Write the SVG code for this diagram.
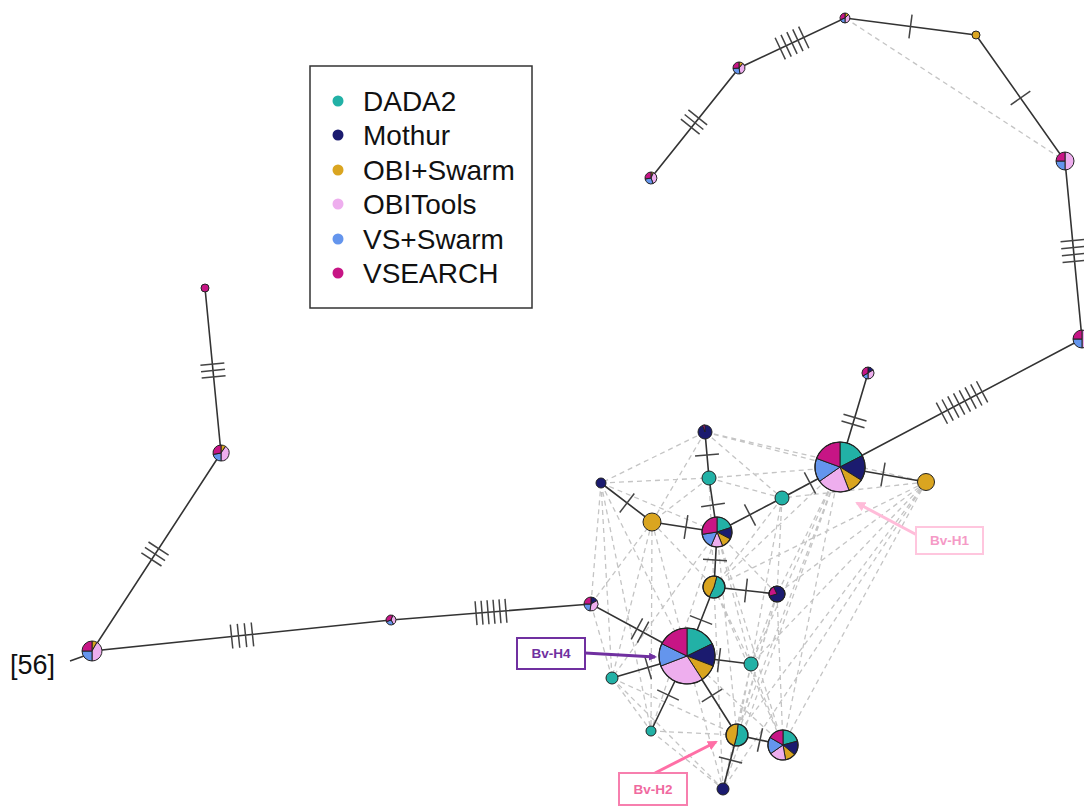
<svg xmlns="http://www.w3.org/2000/svg" width="1084" height="807" viewBox="0 0 1084 807">
<style>
.e{stroke:#333;stroke-width:1.6;fill:none}
.d{stroke:#c4c4c4;stroke-width:1.3;stroke-dasharray:5,4;fill:none}
.t{stroke:#444;stroke-width:1.5;fill:none}
.p{stroke:#222;stroke-width:1}
.c1{fill:#22b1a6}.c2{fill:#1b1b6f}.c3{fill:#DAA520}.c4{fill:#EEAEEE}.c5{fill:#6495ED}.c6{fill:#C71585}
.o{fill:none;stroke:#222;stroke-width:1.2}
.lg{font-family:"Liberation Sans",Arial,sans-serif;font-size:28px;fill:#111}
.lb{font-family:"Liberation Sans",Arial,sans-serif;font-size:13.5px;font-weight:bold;text-anchor:middle}
</style>
<defs>
<marker id="aP" markerWidth="8" markerHeight="8" refX="6" refY="4" orient="auto" markerUnits="userSpaceOnUse"><path d="M0,0L8,4L0,8Z" fill="#7030A0"/></marker>
<marker id="a1" markerWidth="10" markerHeight="10" refX="8" refY="5" orient="auto" markerUnits="userSpaceOnUse"><path d="M0,0L10,5L0,10Z" fill="#ffbcd9"/></marker>
<marker id="a2" markerWidth="10" markerHeight="10" refX="8" refY="5" orient="auto" markerUnits="userSpaceOnUse"><path d="M0,0L10,5L0,10Z" fill="#ff6fa6"/></marker>
</defs>
<rect width="1084" height="807" fill="#fff"/>

<g id="connectors">
<g id="dashed">
<path class="d" d="M845,18L1065,161"/>
<path class="d" d="M705,432L840,467M705,432L926,482M705,432L601,483M705,432L782,498M705,432L652,522
M601,483L709,478M601,483L717,532M601,483L612,678M601,483L687,656M601,483L651,731
M709,478L782,498M709,478L840,467M709,478L652,522M709,478L714,587
M652,522L612,678M652,522L651,731M652,522L687,656M652,522L714,587
M782,498L751,664M782,498L777,594M782,498L714,587
M840,467L777,594M840,467L751,664M840,467L783,745M840,467L737,735M840,467L714,587M840,467L717,532M840,467L723,789
M926,482L777,594M926,482L751,664M926,482L783,745M926,482L737,735M926,482L723,789M926,482L782,498M926,482L714,587
M717,532L751,664M717,532L777,594M717,532L783,745M717,532L737,735M717,532L612,678M717,532L651,731
M714,587L751,664M714,587L783,745M714,587L723,789
M777,594L751,664M777,594L783,745M777,594L737,735M777,594L723,789
M687,656L783,745M687,656L723,789
M751,664L783,745M751,664L723,789M751,664L737,735
M612,678L651,731M612,678L737,735M612,678L723,789
M651,731L737,735M651,731L723,789
M591,604L612,678M591,604L652,522M591,604L601,483"/>
</g>
<g id="solid">
<path class="e" d="M651,178L739,68L845,18L976,35L1065,161L1082,339L840,467"/>
<path class="e" d="M205,288L221,453L92,651L391,620L591,604L687,656"/>
<path class="e" d="M70,661L84,656"/>
<path class="e" d="M840,467L868,373M840,467L926,482M840,467L782,498L717,532L709,478L705,432M717,532L652,522L601,483M717,532L714,587L777,594M714,587L687,656"/>
<path class="e" d="M687,656L751,664M687,656L612,678M687,656L651,731M687,656L737,735L783,745M737,735L723,789"/>
</g>
<g id="ticks">
<g class="t" transform="translate(694,122) rotate(-51.3)"><path d="M-6,-12V12M0,-12V12M6,-12V12"/></g>
<g class="t" transform="translate(792,43) rotate(-25.3)"><path d="M-13,-12V12M-6.5,-12V12M0,-12V12M6.5,-12V12M13,-12V12"/></g>
<g class="t" transform="translate(910.5,26.5) rotate(7.4)"><path d="M0,-12V12"/></g>
<g class="t" transform="translate(1020.5,98) rotate(54.8)"><path d="M0,-12V12"/></g>
<g class="t" transform="translate(1073.5,251) rotate(84.5)"><path d="M-10.5,-12V12M-3.5,-12V12M3.5,-12V12M10.5,-12V12"/></g>
<g class="t" transform="translate(962,402.5) rotate(152.1)"><path d="M-22.75,-12V12M-16.25,-12V12M-9.75,-12V12M-3.25,-12V12M3.25,-12V12M9.75,-12V12M16.25,-12V12M22.75,-12V12"/></g>
<g class="t" transform="translate(854,421) rotate(-73.4)"><path d="M-3.5,-12V12M3.5,-12V12"/></g>
<g class="t" transform="translate(883,474.5) rotate(9.9)"><path d="M0,-12V12"/></g>
<g class="t" transform="translate(810,483) rotate(151.9)"><path d="M0,-12V12"/></g>
<g class="t" transform="translate(750,515) rotate(152.4)"><path d="M0,-12V12"/></g>
<g class="t" transform="translate(713,505) rotate(-98.4)"><path d="M0,-12V12"/></g>
<g class="t" transform="translate(707,455) rotate(-95)"><path d="M0,-12V12"/></g>
<g class="t" transform="translate(686,527) rotate(-171.3)"><path d="M0,-12V12"/></g>
<g class="t" transform="translate(627,503) rotate(-142.6)"><path d="M0,-12V12"/></g>
<g class="t" transform="translate(715,560) rotate(93.1)"><path d="M0,-12V12"/></g>
<g class="t" transform="translate(746,590.5) rotate(6.3)"><path d="M0,-12V12"/></g>
<g class="t" transform="translate(701,620) rotate(111.4)"><path d="M0,-12V12"/></g>
<g class="t" transform="translate(640,630.5) rotate(-151.6)"><path d="M-3.5,-12V12M3.5,-12V12"/></g>
<g class="t" transform="translate(719,660) rotate(7.1)"><path d="M0,-12V12"/></g>
<g class="t" transform="translate(648,667.4) rotate(163.7)"><path d="M0,-12V12"/></g>
<g class="t" transform="translate(668,695) rotate(115.6)"><path d="M0,-12V12"/></g>
<g class="t" transform="translate(712,695.5) rotate(57.7)"><path d="M0,-12V12"/></g>
<g class="t" transform="translate(760,740) rotate(12.3)"><path d="M0,-12V12"/></g>
<g class="t" transform="translate(730.5,760) rotate(104.5)"><path d="M0,-12V12"/></g>
<g class="t" transform="translate(491,612) rotate(175.4)"><path d="M-15,-12V12M-9,-12V12M-3,-12V12M3,-12V12M9,-12V12M15,-12V12"/></g>
<g class="t" transform="translate(242,635.5) rotate(174.1)"><path d="M-10.5,-12V12M-3.5,-12V12M3.5,-12V12M10.5,-12V12"/></g>
<g class="t" transform="translate(155,554) rotate(-56.9)"><path d="M-6.5,-12V12M0,-12V12M6.5,-12V12"/></g>
<g class="t" transform="translate(213,370.5) rotate(-95.5)"><path d="M-6.5,-12V12M0,-12V12M6.5,-12V12"/></g>
</g>
</g>

<g id="nodes">
<g id="n-top3" class="p"><path class="c3" d="M651,178L651,172A6,6 0 0 1 653.5,172.6Z"/><path class="c4" d="M651,178L653.5,172.6A6,6 0 0 1 653.1,183.6Z"/><path class="c5" d="M651,178L653.1,183.6A6,6 0 0 1 645.1,179Z"/><path class="c6" d="M651,178L645.1,179A6,6 0 0 1 651,172Z"/></g>
<g id="n-top2" class="p"><path class="c3" d="M739,68L739,62A6,6 0 0 1 742.9,63.4Z"/><path class="c4" d="M739,68L742.9,63.4A6,6 0 0 1 740,73.9Z"/><path class="c5" d="M739,68L740,73.9A6,6 0 0 1 733,68.5Z"/><path class="c6" d="M739,68L733,68.5A6,6 0 0 1 739,62Z"/></g>
<g id="n-top1" class="p"><path class="c3" d="M845,18L845,13A5,5 0 0 1 848.5,14.5Z"/><path class="c4" d="M845,18L848.5,14.5A5,5 0 0 1 845,23Z"/><path class="c5" d="M845,18L845,23A5,5 0 0 1 840.3,19.7Z"/><path class="c6" d="M845,18L840.3,19.7A5,5 0 0 1 845,13Z"/></g>
<g id="n-topR"><circle class="c3 p" cx="976" cy="35" r="4"/></g>
<g id="n-R1" class="p"><path class="c4" d="M1065,161L1065,152A9,9 0 0 1 1065,170Z"/><path class="c5" d="M1065,161L1065,170A9,9 0 0 1 1056,161Z"/><path class="c6" d="M1065,161L1056,161A9,9 0 0 1 1065,152Z"/></g>
<g id="n-R2" class="p"><path class="c4" d="M1082,339L1082,330A9,9 0 0 1 1082,348Z"/><path class="c5" d="M1082,339L1082,348A9,9 0 0 1 1073,339Z"/><path class="c6" d="M1082,339L1073,339A9,9 0 0 1 1082,330Z"/></g>
<g id="n-H1top" class="p"><path class="c2" d="M868,373L868,367A6,6 0 0 1 873.2,370Z"/><path class="c4" d="M868,373L873.2,370A6,6 0 0 1 868,379Z"/><path class="c5" d="M868,373L868,379A6,6 0 0 1 862.8,376Z"/><path class="c6" d="M868,373L862.8,376A6,6 0 0 1 868,367Z"/></g>
<g id="n-H1" class="p">
<path class="c1" d="M840,467L840,442A25,25 0 0 1 862.3,455.6Z"/>
<path class="c2" d="M840,467L862.3,455.6A25,25 0 0 1 861.2,480.2Z"/>
<path class="c3" d="M840,467L861.2,480.2A25,25 0 0 1 849,490.3Z"/>
<path class="c4" d="M840,467L849,490.3A25,25 0 0 1 819.5,481.3Z"/>
<path class="c5" d="M840,467L819.5,481.3A25,25 0 0 1 816.5,458.4Z"/>
<path class="c6" d="M840,467L816.5,458.4A25,25 0 0 1 840,442Z"/>
<circle class="o" cx="840" cy="467" r="25"/></g>
<g id="n-goldR"><circle class="c3 p" cx="926" cy="482" r="8.5"/></g>
<g id="n-tealF"><circle class="c1 p" cx="782" cy="498" r="7"/></g>
<g id="n-navyA" class="p"><circle class="c2" cx="705" cy="432" r="7"/><path class="c6" d="M705,432L702.6,425.4A7,7 0 0 1 705,425Z"/></g>
<g id="n-tealB"><circle class="c1 p" cx="709" cy="478" r="7"/></g>
<g id="n-navyC"><circle class="c2 p" cx="601" cy="483" r="5"/></g>
<g id="n-goldD"><circle class="c3 p" cx="652" cy="522" r="9"/></g>
<g id="n-H3" class="p">
<path class="c1" d="M717,532L717,517A15,15 0 0 1 731.3,527.4Z"/>
<path class="c2" d="M717,532L731.3,527.4A15,15 0 0 1 730.2,539Z"/>
<path class="c3" d="M717,532L730.2,539A15,15 0 0 1 722.6,545.9Z"/>
<path class="c4" d="M717,532L722.6,545.9A15,15 0 0 1 711.1,545.8Z"/>
<path class="c5" d="M717,532L711.1,545.8A15,15 0 0 1 702.2,534.3Z"/>
<path class="c6" d="M717,532L702.2,534.3A15,15 0 0 1 717,517Z"/>
<circle class="o" cx="717" cy="532" r="15"/></g>
<g id="n-I" class="p"><path class="c1" d="M714,587L716.8,576.4A11,11 0 1 1 709.3,597Z"/><path class="c3" d="M714,587L709.3,597A11,11 0 0 1 716.8,576.4Z"/><circle class="o" cx="714" cy="587" r="11"/></g>
<g id="n-J" class="p"><circle class="c2" cx="777" cy="594" r="8"/><path class="c6" d="M777,594L769.3,596.1A8,8 0 0 1 773.6,586.8Z"/><circle class="o" cx="777" cy="594" r="8"/></g>
<g id="n-L" class="p"><path class="c2" d="M591,604L591,597A7,7 0 0 1 597.1,600.5Z"/><path class="c4" d="M591,604L597.1,600.5A7,7 0 0 1 589.8,610.9Z"/><path class="c5" d="M591,604L589.8,610.9A7,7 0 0 1 584,604Z"/><path class="c6" d="M591,604L584,604A7,7 0 0 1 591,597Z"/></g>
<g id="n-H4" class="p">
<path class="c1" d="M687,656L687,628A28,28 0 0 1 712.2,643.7Z"/>
<path class="c2" d="M687,656L712.2,643.7A28,28 0 0 1 713.1,666Z"/>
<path class="c3" d="M687,656L713.1,666A28,28 0 0 1 702.3,679.5Z"/>
<path class="c4" d="M687,656L702.3,679.5A28,28 0 0 1 660.9,666Z"/>
<path class="c5" d="M687,656L660.9,666A28,28 0 0 1 661.8,643.7Z"/>
<path class="c6" d="M687,656L661.8,643.7A28,28 0 0 1 687,628Z"/>
<circle class="o" cx="687" cy="656" r="28"/></g>
<g id="n-tealM"><circle class="c1 p" cx="751" cy="664" r="7"/></g>
<g id="n-tealN"><circle class="c1 p" cx="612" cy="678" r="6"/></g>
<g id="n-tealO"><circle class="c1 p" cx="651" cy="731" r="5"/></g>
<g id="n-H2" class="p"><path class="c1" d="M737,735L738,724A11,11 0 1 1 734.2,745.6Z"/><path class="c3" d="M737,735L734.2,745.6A11,11 0 0 1 738,724Z"/><circle class="o" cx="737" cy="735" r="11"/></g>
<g id="n-Q" class="p">
<path class="c1" d="M783,745L783,730A15,15 0 0 1 797.5,741.1Z"/>
<path class="c2" d="M783,745L797.5,741.1A15,15 0 0 1 794.5,754.6Z"/>
<path class="c3" d="M783,745L794.5,754.6A15,15 0 0 1 785.6,759.8Z"/>
<path class="c4" d="M783,745L785.6,759.8A15,15 0 0 1 770.7,753.6Z"/>
<path class="c5" d="M783,745L770.7,753.6A15,15 0 0 1 770,737.5Z"/>
<path class="c6" d="M783,745L770,737.5A15,15 0 0 1 783,730Z"/>
<circle class="o" cx="783" cy="745" r="15"/></g>
<g id="n-navyR"><circle class="c2 p" cx="723" cy="789" r="6"/></g>
<g id="n-mid" class="p"><path class="c4" d="M391,620L392.7,615.3A5,5 0 0 1 393.5,624.3Z"/><path class="c5" d="M391,620L393.5,624.3A5,5 0 0 1 386.3,621.7Z"/><path class="c6" d="M391,620L386.3,621.7A5,5 0 0 1 392.7,615.3Z"/></g>
<g id="n-L3" class="p"><path class="c3" d="M92,651L92,641A10,10 0 0 1 97,642.34Z"/><path class="c4" d="M92,651L97,642.34A10,10 0 0 1 92,661Z"/><path class="c5" d="M92,651L92,661A10,10 0 0 1 82,651Z"/><path class="c6" d="M92,651L82,651A10,10 0 0 1 92,641Z"/></g>
<g id="n-L2" class="p"><path class="c3" d="M221,453L221,445A8,8 0 0 1 225.6,446.4Z"/><path class="c4" d="M221,453L225.6,446.4A8,8 0 0 1 221,461Z"/><path class="c5" d="M221,453L221,461A8,8 0 0 1 213.1,454.4Z"/><path class="c6" d="M221,453L213.1,454.4A8,8 0 0 1 221,445Z"/></g>
<g id="n-L1"><circle class="c6 p" cx="205" cy="288" r="4"/></g>
</g>

<g id="outgroup"><text x="10" y="674" font-family="'Liberation Sans',Arial,sans-serif" font-size="27" fill="#111">[56]</text></g>

<g id="legend">
<rect x="310" y="66" width="222" height="242" fill="#fff" stroke="#333" stroke-width="1.5"/>
<circle class="c1" cx="338" cy="101" r="5.5"/><text class="lg" x="363" y="111">DADA2</text>
<circle class="c2" cx="338" cy="135" r="5.5"/><text class="lg" x="363" y="145">Mothur</text>
<circle class="c3" cx="338" cy="170" r="5.5"/><text class="lg" x="363" y="180">OBI+Swarm</text>
<circle class="c4" cx="338" cy="204" r="5.5"/><text class="lg" x="363" y="214">OBITools</text>
<circle class="c5" cx="338" cy="239" r="5.5"/><text class="lg" x="363" y="249">VS+Swarm</text>
<circle class="c6" cx="338" cy="273" r="5.5"/><text class="lg" x="363" y="283">VSEARCH</text>
</g>

<g id="label-H1">
<path d="M917,535L857,503" stroke="#ffbcd9" stroke-width="3" fill="none" marker-end="url(#a1)"/>
<rect x="916" y="527" width="67" height="27" fill="#fff" stroke="#ffc6de" stroke-width="2"/>
<text class="lb" x="949.5" y="545" fill="#f59ac6">Bv-H1</text>
</g>
<g id="label-H4">
<path d="M585,653L655,657" stroke="#7030A0" stroke-width="3" fill="none" marker-end="url(#aP)"/>
<rect x="517" y="638" width="68" height="31" fill="#fff" stroke="#7030A0" stroke-width="2"/>
<text class="lb" x="551" y="658" fill="#7030A0">Bv-H4</text>
</g>
<g id="label-H2">
<path d="M655,773L716,742" stroke="#ff6fa6" stroke-width="3" fill="none" marker-end="url(#a2)"/>
<rect x="619" y="773" width="68" height="32" fill="#fff" stroke="#f77fae" stroke-width="2"/>
<text class="lb" x="653" y="794" fill="#f06a9f">Bv-H2</text>
</g>
</svg>
